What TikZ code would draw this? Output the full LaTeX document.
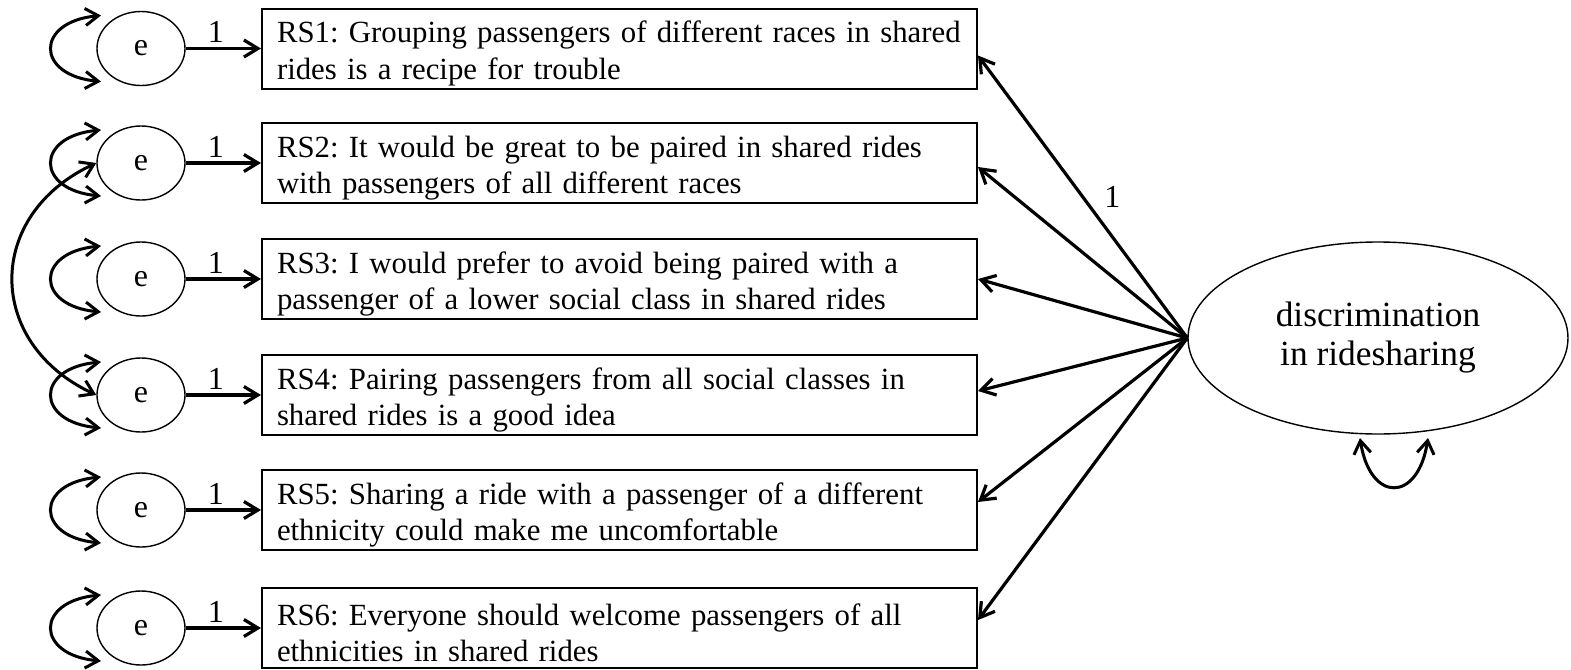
\documentclass[tikz,border=0pt]{standalone}
\usepackage{fontspec}
\setmainfont{Liberation Serif}
\usetikzlibrary{arrows.meta,shapes.geometric,calc}
\tikzset{
  conn/.style={line width=1.6pt,-{Straight Barb[length=7pt,width=8.5pt]}},
  biconn/.style={line width=1.5pt,{Straight Barb[length=6.5pt,width=8.5pt]}-{Straight Barb[length=6.5pt,width=8.5pt]}},
  itembox/.style={draw,line width=1pt,rectangle,minimum width=357.5pt,minimum height=40pt,inner sep=0pt},
  itemtxt/.style={text width=342.5pt,inner xsep=7.5pt,inner ysep=0pt,align=left,
    font=\fontsize{15.4pt}{18.2pt}\selectfont\frenchspacing},
  errnode/.style={draw,line width=0.7pt,ellipse,minimum width=44pt,minimum height=37pt,inner sep=0pt,
    font=\fontsize{16pt}{18pt}\selectfont},
  latnode/.style={draw,line width=0.7pt,ellipse,minimum width=190pt,minimum height=96pt,inner sep=0pt,
    align=center,font=\fontsize{17.7pt}{19.5pt}\selectfont},
  lbl/.style={font=\fontsize{16pt}{18pt}\selectfont,inner sep=2pt}
}
\begin{document}
\begin{tikzpicture}[x=0.5pt,y=-0.5pt]
\useasboundingbox (0,0) rectangle (1571,670);
% items
\foreach \i/\y in {1/48.5,2/163,3/279,4/395,5/510,6/628}{
  \node[itembox] (b\i) at (619.5,\y) {};
}
\node[itemtxt] (t1) at ([yshift=-2.5pt]b1.center) {RS1: Grouping passengers of different races in shared\\rides is a recipe for trouble};
\node[itemtxt] (t2) at ([yshift=-2.5pt]b2.center) {RS2: It would be great to be paired in shared rides\\with passengers of all different races};
\node[itemtxt] (t3) at ([yshift=-2.5pt]b3.center) {RS3: I would prefer to avoid being paired with a\\passenger of a lower social class in shared rides};
\node[itemtxt] (t4) at ([yshift=-2.5pt]b4.center) {RS4: Pairing passengers from all social classes in\\shared rides is a good idea};
\node[itemtxt] (t5) at ([yshift=-2.5pt]b5.center) {RS5: Sharing a ride with a passenger of a different\\ethnicity could make me uncomfortable};
\node[itemtxt] (t6) at ([yshift=-2.5pt]b6.center) {RS6: Everyone should welcome passengers of all\\ethnicities in shared rides};
% errors
\foreach \i/\y in {1/48.5,2/163,3/279,4/395,5/510,6/628}{
  \node[errnode] (e\i) at (141,\y) {e};
  \draw[conn] (e\i.east) -- node[lbl,pos=0.4,above] (l\i) {1} (b\i.west);
  \draw[biconn] ($(e\i.center)+(-40,-33)$) .. controls +(-66,6) and +(-66,-6) .. ($(e\i.center)+(-40,33)$);
}
% covariance e2-e4
\draw[biconn] (e2.west) .. controls (-15,215) and (-15,343) .. (e4.west);
% latent
\node[latnode] (lat) at (1378,338) {discrimination\\in ridesharing};
\draw[conn] (lat.west) -- node[lbl,pos=0.5,right=8pt] (lf) {1} ([yshift=-3.5pt]b1.east);
\draw[conn] (lat.west) -- ([yshift=-2pt]b2.east);
\draw[conn] (lat.west) -- (b3.east);
\draw[conn] (lat.west) -- ([yshift=2pt]b4.east);
\draw[conn] (lat.west) -- ([yshift=4pt]b5.east);
\draw[conn] (lat.west) -- ([yshift=4pt]b6.east);
% latent variance
\draw[biconn] ($(lat.center)+(-18,100)$) .. controls +(10,65) and +(-10,65) .. ($(lat.center)+(50,100)$);
\end{tikzpicture}
\end{document}
